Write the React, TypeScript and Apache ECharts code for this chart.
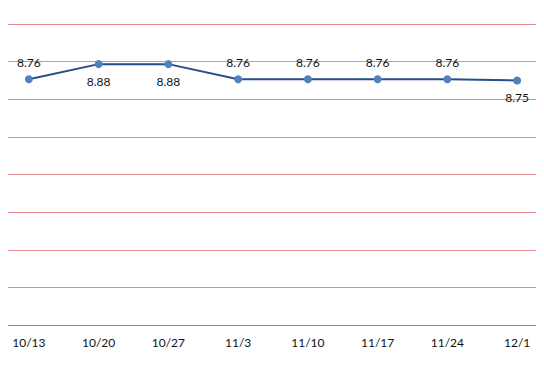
import React, { useEffect, useRef } from "react";
import * as echarts from "echarts";

const categories = ["10/13", "10/20", "10/27", "11/3", "11/10", "11/17", "11/24", "12/1"];
const values = [8.76, 8.88, 8.88, 8.76, 8.76, 8.76, 8.76, 8.75];
const labelBelow = [false, true, true, false, false, false, false, true];

export default function App() {
  const ref = useRef<HTMLDivElement>(null);
  useEffect(() => {
    if (!ref.current) return;
    const chart = echarts.init(ref.current, null, { renderer: "svg" });
    const font = "Lato, 'Noto Sans', sans-serif";
    chart.setOption({
      animation: false,
      grid: { left: 0, right: 0, top: 24, bottom: 42, containLabel: false },
      xAxis: {
        type: "category",
        data: categories,
        boundaryGap: true,
        axisLine: { show: true, lineStyle: { color: "#8c8c8c", width: 1 } },
        axisTick: { show: false },
        axisLabel: { color: "#111", fontSize: 12, fontFamily: font, margin: 11 },
        splitLine: { show: false },
      },
      yAxis: [
        {
          type: "value",
          min: 6.8,
          max: 9.2,
          show: false,
          splitLine: { show: false },
        },
        {
          type: "value",
          min: 0,
          max: 8,
          interval: 1,
          axisLine: { show: false },
          axisTick: { show: false },
          axisLabel: { show: false },
          splitLine: { show: true, lineStyle: { color: "#e68a8a", width: 1 } },
        },
      ],
      series: [
        {
          type: "line",
          yAxisIndex: 0,
          data: values.map((v, i) => ({
            value: v,
            label: { position: labelBelow[i] ? "bottom" : "top" },
          })),
          symbol: "circle",
          symbolSize: 8,
          lineStyle: { color: "#254e8a", width: 2 },
          itemStyle: { color: "#4f81bd" },
          label: {
            show: true,
            color: "#111",
            fontSize: 12,
            fontFamily: font,
            distance: 7,
            formatter: (p: any) => p.value.toFixed(2),
          },
        },
      ],
    });
    return () => chart.dispose();
  }, []);
  return (
    <div style={{ width: 544, height: 367, margin: -8, overflow: "hidden", position: "relative" }}>
      <div ref={ref} style={{ position: "absolute", left: -6, top: 0, width: 558, height: 367 }} />
    </div>
  );
}
